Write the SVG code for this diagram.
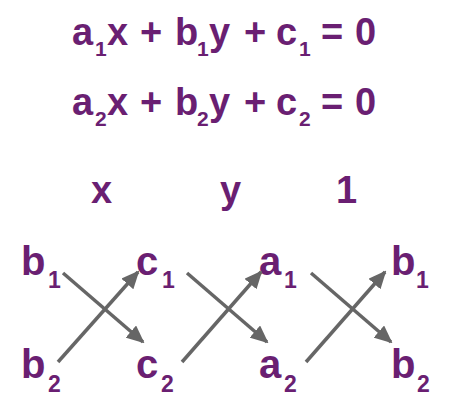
<svg xmlns="http://www.w3.org/2000/svg" width="465" height="411" viewBox="0 0 465 411">
<style>
  text { font-family: "Liberation Sans", Arial, sans-serif; font-weight: bold; fill: #6a1f72; }
  .eq { font-size: 38px; }
  .eqs { font-size: 21px; }
  .lb { font-size: 40px; }
  .lbs { font-size: 23px; }
  .conn line { stroke: #666666; stroke-width: 3.5; fill: none; marker-end: url(#ah); }
</style>
<defs>
  <marker id="ah" markerUnits="userSpaceOnUse" markerWidth="18" markerHeight="16" refX="16" refY="8" orient="auto" viewBox="0 0 18 16">
    <path d="M0,0 L18,8 L0,16 Z" fill="#666666"/>
  </marker>
</defs>
<rect width="465" height="411" fill="#ffffff"/>
<g id="equation1">
  <text class="eq" y="45"><tspan x="72">a</tspan><tspan class="eqs" x="95" y="56">1</tspan><tspan x="107" y="45">x</tspan><tspan x="140">+</tspan><tspan x="175">b</tspan><tspan class="eqs" x="197" y="56">1</tspan><tspan x="209" y="45">y</tspan><tspan x="244">+</tspan><tspan x="276">c</tspan><tspan class="eqs" x="299" y="56">1</tspan><tspan x="321" y="45">=</tspan><tspan x="355">0</tspan></text>
</g>
<g id="equation2">
  <text class="eq" y="115"><tspan x="72">a</tspan><tspan class="eqs" x="95" y="126">2</tspan><tspan x="107" y="115">x</tspan><tspan x="140">+</tspan><tspan x="175">b</tspan><tspan class="eqs" x="197" y="126">2</tspan><tspan x="209" y="115">y</tspan><tspan x="244">+</tspan><tspan x="276">c</tspan><tspan class="eqs" x="299" y="126">2</tspan><tspan x="321" y="115">=</tspan><tspan x="355">0</tspan></text>
</g>
<g id="header-x"><text class="eq" x="91" y="203">x</text></g>
<g id="header-y"><text class="eq" x="220" y="203">y</text></g>
<g id="header-1"><text class="eq" x="336" y="203">1</text></g>
<g id="b1-left"><text class="lb" x="21" y="275">b<tspan class="lbs" x="48" y="288">1</tspan></text></g>
<g id="b2-left"><text class="lb" x="21" y="378">b<tspan class="lbs" x="48" y="392">2</tspan></text></g>
<g id="c1"><text class="lb" x="136" y="275">c<tspan class="lbs" x="162" y="288">1</tspan></text></g>
<g id="c2"><text class="lb" x="136" y="378">c<tspan class="lbs" x="161" y="392">2</tspan></text></g>
<g id="a1"><text class="lb" x="259" y="275">a<tspan class="lbs" x="284" y="288">1</tspan></text></g>
<g id="a2"><text class="lb" x="259" y="378">a<tspan class="lbs" x="284" y="392">2</tspan></text></g>
<g id="b1-right"><text class="lb" x="391" y="275">b<tspan class="lbs" x="416" y="288">1</tspan></text></g>
<g id="b2-right"><text class="lb" x="391" y="378">b<tspan class="lbs" x="417" y="392">2</tspan></text></g>
<g id="connectors" class="conn">
  <line x1="63" y1="273" x2="143" y2="342"/>
  <line x1="58" y1="362" x2="138" y2="272"/>
  <line x1="187" y1="273" x2="267" y2="342"/>
  <line x1="182" y1="362" x2="261" y2="272"/>
  <line x1="311" y1="273" x2="391" y2="342"/>
  <line x1="306" y1="362" x2="385" y2="272"/>
</g>
</svg>
